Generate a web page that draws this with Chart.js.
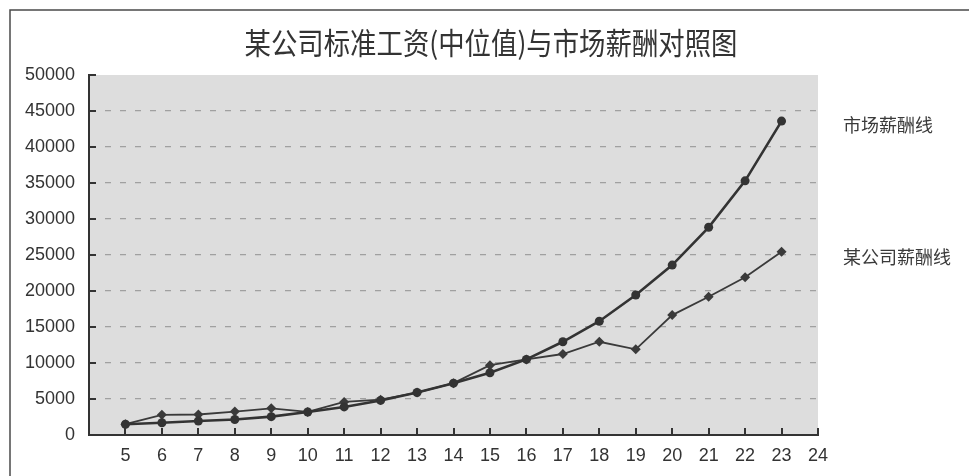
<!DOCTYPE html>
<html>
<head>
<meta charset="utf-8">
<script src="https://cdn.jsdelivr.net/npm/chart.js@4/dist/chart.umd.min.js"></script>
<style>
  html, body { margin: 0; padding: 0; background: #fff; }
  #wrap { width: 969px; height: 476px; position: relative; }
</style>
</head>
<body>
<div id="wrap"><canvas id="c" width="969" height="476"></canvas></div>
<script>
// 职级 5–23
const grades = [5, 6, 7, 8, 9, 10, 11, 12, 13, 14, 15, 16, 17, 18, 19, 20, 21, 22, 23];
// 市场薪酬 (中位值)
const marketPay = [1500, 1700, 1950, 2150, 2550, 3200, 3900, 4800, 5900, 7200, 8650, 10500, 12950, 15800, 19450, 23600, 28850, 35300, 43600];
// 某公司标准工资
const companyPay = [1500, 2800, 2850, 3250, 3700, 3200, 4600, 4900, 5900, 7200, 9700, 10500, 11250, 12950, 11900, 16650, 19200, 21900, 25450];
const xTicks = [5, 6, 7, 8, 9, 10, 11, 12, 13, 14, 15, 16, 17, 18, 19, 20, 21, 22, 23, 24];
const yTicks = [0, 5000, 10000, 15000, 20000, 25000, 30000, 35000, 40000, 45000, 50000];

const titleText = '某公司标准工资(中位值)与市场薪酬对照图';
const marketLabel = '市场薪酬线';
const companyLabel = '某公司薪酬线';

const toPoints = (vals) => vals.map((v, i) => ({ x: grades[i], y: v }));

const ink = '#333333';

const decor = {
  id: 'decor',
  beforeDraw(chart) {
    const { ctx, chartArea: a } = chart;
    ctx.save();
    ctx.fillStyle = '#ffffff';
    ctx.fillRect(0, 0, chart.width, chart.height);
    ctx.fillStyle = '#dddddd';
    ctx.fillRect(a.left, a.top, a.right - a.left, a.bottom - a.top);
    // outer frame of the chart (left and top edges)
    ctx.strokeStyle = '#4a4a4a';
    ctx.lineWidth = 1.5;
    ctx.beginPath();
    ctx.moveTo(10, chart.height + 2);
    ctx.lineTo(10, 10);
    ctx.lineTo(chart.width + 2, 10);
    ctx.stroke();
    ctx.restore();
  },
  beforeDatasetsDraw(chart) {
    // inward tick marks on both axes
    const { ctx, chartArea: a, scales: { x, y } } = chart;
    ctx.save();
    ctx.strokeStyle = ink;
    ctx.lineWidth = 2;
    ctx.beginPath();
    yTicks.forEach(v => {
      const py = Math.round(y.getPixelForValue(v));
      ctx.moveTo(a.left, py);
      ctx.lineTo(a.left + 7, py);
    });
    xTicks.forEach(v => {
      const px = Math.round(x.getPixelForValue(v));
      ctx.moveTo(px, a.bottom);
      ctx.lineTo(px, a.bottom - 7);
    });
    ctx.stroke();
    ctx.restore();
  },
  afterDraw(chart) {
    const { ctx, chartArea: a, scales: { y } } = chart;
    ctx.save();
    ctx.fillStyle = ink;
    // narrow title face
    ctx.save();
    ctx.translate(491, 43);
    ctx.scale(0.88, 1);
    ctx.font = '30px "Noto Sans CJK SC"';
    ctx.textAlign = 'center';
    ctx.textBaseline = 'middle';
    ctx.fillText(titleText, 0, 0);
    ctx.restore();
    ctx.fillStyle = '#3a3a3a';
    ctx.font = '18px "Noto Sans CJK SC"';
    ctx.textAlign = 'left';
    ctx.textBaseline = 'middle';
    ctx.fillText(marketLabel, a.right + 25, y.getPixelForValue(marketPay[marketPay.length - 1]) + 4);
    ctx.fillText(companyLabel, a.right + 25, y.getPixelForValue(companyPay[companyPay.length - 1]) + 5);
    ctx.restore();
  }
};

new Chart(document.getElementById('c'), {
  type: 'line',
  data: {
    datasets: [
      {
        label: marketLabel,
        data: toPoints(marketPay),
        borderColor: ink,
        backgroundColor: ink,
        borderWidth: 2.6,
        pointStyle: 'circle',
        pointRadius: 4.5,
        pointBorderWidth: 0,
        tension: 0
      },
      {
        label: companyLabel,
        data: toPoints(companyPay),
        borderColor: '#3a3a3a',
        backgroundColor: '#3a3a3a',
        borderWidth: 1.8,
        pointStyle: 'rectRot',
        pointRadius: 5,
        pointBorderWidth: 0,
        tension: 0
      }
    ]
  },
  options: {
    responsive: false,
    animation: false,
    events: [],
    layout: { padding: { left: 10, right: 151, top: 75, bottom: 0 } },
    plugins: {
      legend: { display: false },
      title: { display: false },
      tooltip: { enabled: false }
    },
    scales: {
      x: {
        type: 'linear',
        min: 4,
        max: 24,
        afterFit(s) { s.height = 41; },
        afterBuildTicks(s) { s.ticks = [4].concat(xTicks).map(v => ({ value: v })); },
        ticks: {
          autoSkip: false,
          padding: 10,
          color: ink,
          font: { family: '"Liberation Sans", Arial', size: 18 },
          callback: (v) => (v === 4 ? '' : String(v))
        },
        grid: { drawOnChartArea: false, drawTicks: false, color: 'rgba(0,0,0,0)' },
        border: { display: true, color: ink, width: 2 }
      },
      y: {
        min: 0,
        max: 50000,
        afterFit(s) { s.width = 79; },
        afterBuildTicks(s) { s.ticks = yTicks.map(v => ({ value: v })); },
        ticks: {
          padding: 14,
          color: ink,
          font: { family: '"Liberation Sans", Arial', size: 18 },
          callback: (v) => String(v)
        },
        grid: {
          drawTicks: false,
          lineWidth: 1.2,
          color: (c) => (c.tick && (c.tick.value === 0 || c.tick.value === 50000) ? 'rgba(0,0,0,0)' : '#a0a0a0')
        },
        border: { display: true, color: ink, width: 2, dash: [6, 9] }
      }
    }
  },
  plugins: [decor]
});
</script>
</body>
</html>
